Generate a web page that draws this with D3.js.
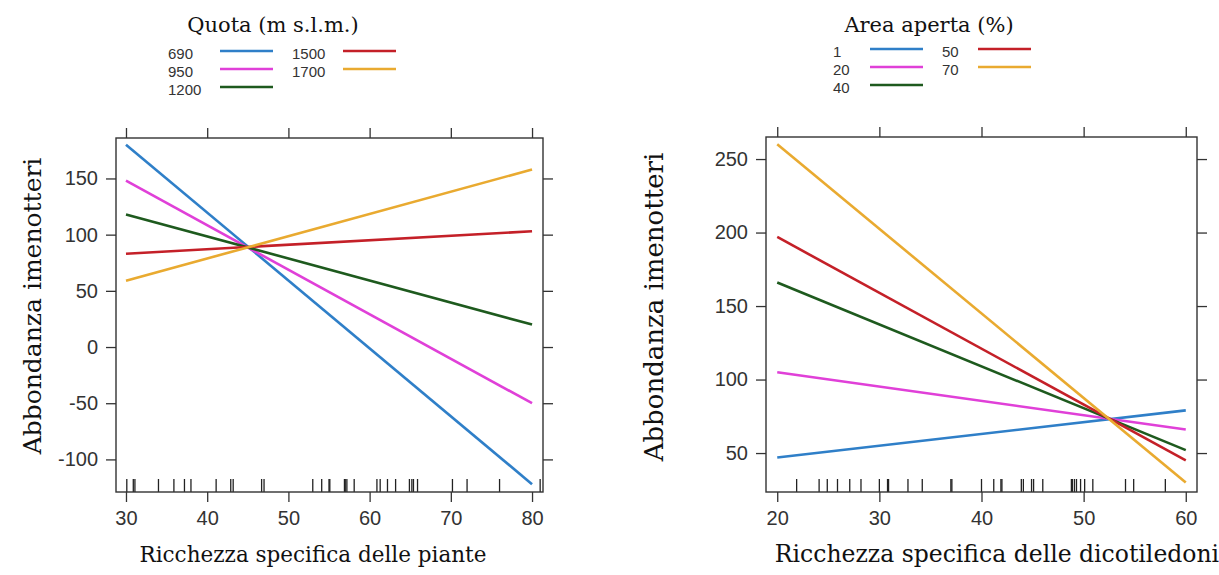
<!DOCTYPE html>
<html>
<head>
<meta charset="utf-8">
<script src="https://cdn.jsdelivr.net/npm/d3@7/dist/d3.min.js"></script>
<style>
  html, body { margin: 0; padding: 0; background: #fff; }
  svg { display: block; }
</style>
</head>
<body>
<svg id="chart" width="1219" height="575"></svg>
<script>
// ---------- DATA ----------
// Left panel: Quota (m s.l.m.)
const quotaLevels = ["690", "950", "1200", "1500", "1700"];
const quotaX = [30, 80];
const quota690 = [180, -122];
const quota950 = [148, -50];
const quota1200 = [118, 20];
const quota1500 = [83, 103];
const quota1700 = [59, 158];
const leftXTicks = [30, 40, 50, 60, 70, 80];
const leftYTicks = [-100, -50, 0, 50, 100, 150];
const leftRug = [30.1, 30.9, 31.1, 34.0, 35.9, 37.2, 38.0, 41.1, 42.9, 43.2, 46.7, 47.0,
  53.0, 54.1, 55.0, 55.1, 56.9, 57.0, 57.2, 58.1, 60.9, 61.3, 62.2, 63.2, 64.9, 65.2,
  65.4, 65.9, 70.2, 72.0, 76.0, 81.0];

// Right panel: Area aperta (%)
const areaLevels = ["1", "20", "40", "50", "70"];
const areaX = [20, 60];
const area1 = [47, 79];
const area20 = [105, 66];
const area40 = [166, 52];
const area50 = [197, 45];
const area70 = [260, 30];
const rightXTicks = [20, 30, 40, 50, 60];
const rightYTicks = [50, 100, 150, 200, 250];
const rightRug = [21.9, 24.1, 24.9, 25.9, 27.1, 28.2, 30.0, 30.8, 30.9, 32.8, 34.2, 37.0,
  37.1, 40.0, 41.2, 41.9, 42.0, 43.9, 44.1, 44.9, 45.1, 46.0, 48.8, 48.9, 49.1, 49.3,
  49.7, 50.1, 50.9, 54.1, 54.9, 58.0];

const seriesColors = ["#2F7FC8", "#E040D8", "#1E5A1E", "#C42028", "#E9AA30"];

// ---------- DRAW ----------
const svg = d3.select("#chart");
const tickFont = "'Liberation Sans', Arial, sans-serif";
const serifFont = "'DejaVu Serif', 'Liberation Serif', serif";

function panel(cfg) {
  const x = d3.scaleLinear().domain(cfg.xlim).range([cfg.box.left, cfg.box.right]);
  const y = d3.scaleLinear().domain(cfg.ylim).range([cfg.box.bottom, cfg.box.top]);
  const g = svg.append("g");

  // lines
  const line = d3.line().x(d => x(d[0])).y(d => y(d[1]));
  cfg.series.forEach((vals, i) => {
    g.append("path")
      .datum(cfg.xs.map((xv, j) => [xv, vals[j]]))
      .attr("d", line)
      .attr("fill", "none")
      .attr("stroke", seriesColors[i])
      .attr("stroke-width", 2.6);
  });

  // rug
  g.append("g").selectAll("line").data(cfg.rug).join("line")
    .attr("x1", d => x(d)).attr("x2", d => x(d))
    .attr("y1", cfg.box.bottom).attr("y2", cfg.box.bottom - 13)
    .attr("stroke", "#222").attr("stroke-width", 1.3);

  // box
  g.append("rect")
    .attr("x", cfg.box.left).attr("y", cfg.box.top)
    .attr("width", cfg.box.right - cfg.box.left)
    .attr("height", cfg.box.bottom - cfg.box.top)
    .attr("fill", "none").attr("stroke", "#333").attr("stroke-width", 1.4);

  // axes
  const tl = 10;
  const fmt = d => String(d);
  const bottom = g.append("g").attr("transform", `translate(0,${cfg.box.bottom})`)
    .call(d3.axisBottom(x).tickValues(cfg.xTicks).tickFormat(fmt).tickSize(tl).tickPadding(9).tickSizeOuter(0));
  const top = g.append("g").attr("transform", `translate(0,${cfg.box.top})`)
    .call(d3.axisTop(x).tickValues(cfg.xTicks).tickSize(tl).tickFormat("").tickSizeOuter(0));
  const left = g.append("g").attr("transform", `translate(${cfg.box.left},0)`)
    .call(d3.axisLeft(y).tickValues(cfg.yTicks).tickFormat(fmt).tickSize(tl).tickPadding(8).tickSizeOuter(0));
  const right = g.append("g").attr("transform", `translate(${cfg.box.right},0)`)
    .call(d3.axisRight(y).tickValues(cfg.yTicks).tickSize(tl).tickFormat("").tickSizeOuter(0));
  [bottom, top, left, right].forEach(a => {
    a.select(".domain").remove();
    a.selectAll(".tick line").attr("stroke", "#333").attr("stroke-width", 1.3);
    a.selectAll(".tick text").attr("fill", "#333")
      .style("font-family", tickFont).style("font-size", "20px");
  });

  // axis titles
  g.append("text")
    .attr("x", cfg.xTitlePos[0]).attr("y", cfg.xTitlePos[1])
    .attr("text-anchor", "middle")
    .style("font-family", serifFont).style("font-size", cfg.xTitleSize + "px").attr("fill", "#111")
    .text(cfg.xTitle);
  g.append("text")
    .attr("transform", `translate(${cfg.yTitlePos[0]},${cfg.yTitlePos[1]}) rotate(-90)`)
    .attr("text-anchor", "middle")
    .style("font-family", serifFont).style("font-size", cfg.yTitleSize + "px").attr("fill", "#111")
    .text(cfg.yTitle);

  // legend title
  g.append("text")
    .attr("x", cfg.legTitlePos[0]).attr("y", cfg.legTitlePos[1])
    .attr("text-anchor", "middle")
    .style("font-family", serifFont).style("font-size", "21px").attr("fill", "#111")
    .text(cfg.legTitle);

  // legend entries
  const L = cfg.legend;
  cfg.levels.forEach((lab, i) => {
    const col = i < 3 ? 0 : 1;
    const row = i < 3 ? i : i - 3;
    const lx = L.textX[col];
    const ly = L.rowY[row];
    g.append("text")
      .attr("x", lx).attr("y", ly + 5)
      .style("font-family", tickFont).style("font-size", "15px").attr("fill", "#333")
      .text(lab);
    g.append("line")
      .attr("x1", L.lineX[col]).attr("x2", L.lineX[col] + L.lineW)
      .attr("y1", ly - 3).attr("y2", ly - 3)
      .attr("stroke", seriesColors[i]).attr("stroke-width", 2.4);
  });
}

panel({
  box: { left: 116, right: 543, top: 138, bottom: 492 },
  xlim: [28.77, 81.35], ylim: [-129, 186],
  xs: quotaX,
  series: [quota690, quota950, quota1200, quota1500, quota1700],
  rug: leftRug, xTicks: leftXTicks, yTicks: leftYTicks,
  xTitle: "Ricchezza specifica delle piante", xTitlePos: [313, 562], xTitleSize: 21.5,
  yTitle: "Abbondanza imenotteri", yTitlePos: [41, 306], yTitleSize: 25,
  legTitle: "Quota (m s.l.m.)", legTitlePos: [273, 32],
  levels: quotaLevels,
  legend: { textX: [168, 292], lineX: [220, 343], lineW: 53, rowY: [54, 72, 90] }
});

panel({
  box: { left: 766, right: 1197, top: 137, bottom: 492 },
  xlim: [18.9, 61.1], ylim: [23.5, 265],
  xs: areaX,
  series: [area1, area20, area40, area50, area70],
  rug: rightRug, xTicks: rightXTicks, yTicks: rightYTicks,
  xTitle: "Ricchezza specifica delle dicotiledoni", xTitlePos: [997, 562], xTitleSize: 23.5,
  yTitle: "Abbondanza imenotteri", yTitlePos: [663, 307], yTitleSize: 26,
  legTitle: "Area aperta (%)", legTitlePos: [929, 32],
  levels: areaLevels,
  legend: { textX: [833, 942], lineX: [870, 978], lineW: 53, rowY: [52, 70, 88] }
});
</script>
</body>
</html>
